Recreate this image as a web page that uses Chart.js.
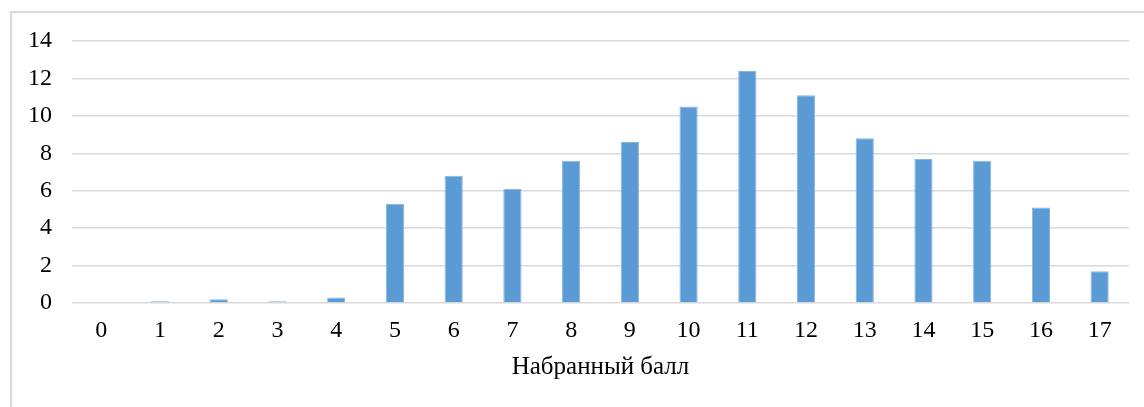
<!DOCTYPE html>
<html lang="ru">
<head>
    <meta charset="UTF-8">
    <title>Набранный балл</title>
    <script src="https://cdn.jsdelivr.net/npm/chart.js"></script>
    <style>
        body { margin: 0; background: #fff; }
        #wrap { position: relative; width: 1144px; height: 407px; overflow: hidden; }
        #frame {
            position: absolute; left: 10px; top: 11px;
            width: 1200px; height: 500px;
            border: 2px solid #d9d9d9;
        }
        #chart { position: absolute; left: 0; top: 0; }
    </style>
</head>
<body>
    <div id="wrap">
        <div id="frame"></div>
        <canvas id="chart" width="1144" height="407"></canvas>
    </div>

    <script>
        const scores = ['0', '1', '2', '3', '4', '5', '6', '7', '8', '9', '10', '11', '12', '13', '14', '15', '16', '17'];
        const percents = [0, 0.1, 0.2, 0.1, 0.3, 5.3, 6.8, 6.1, 7.6, 8.6, 10.5, 12.4, 11.1, 8.8, 7.7, 7.6, 5.1, 1.7];
        const axisTitle = 'Набранный балл';

        const serif = '"Liberation Serif", "Times New Roman", serif';
        const tickFont = { family: serif, size: 24 };
        const titleFont = { family: serif, size: 25 };

        new Chart(document.getElementById('chart'), {
            type: 'bar',
            data: {
                labels: scores,
                datasets: [{
                    data: percents,
                    backgroundColor: '#5b9bd5',
                    borderColor: '#86b5e2',
                    borderWidth: 1,
                    categoryPercentage: 1,
                    barPercentage: 0.31
                }]
            },
            options: {
                responsive: false,
                animation: false,
                layout: { padding: { top: 41, right: 15, bottom: 0, left: 0 } },
                plugins: { legend: { display: false }, tooltip: { enabled: false } },
                scales: {
                    x: {
                        grid: { display: false, tickLength: 0 },
                        border: { display: false },
                        ticks: { color: '#000', font: tickFont, padding: 13, maxRotation: 0 },
                        title: { display: true, text: axisTitle, color: '#000', font: titleFont, padding: { top: 0, bottom: 25 } },
                        afterFit: function (scale) { scale.height = 104; }
                    },
                    y: {
                        min: 0,
                        max: 14,
                        ticks: { stepSize: 2, color: '#000', font: tickFont, padding: 20 },
                        grid: { color: '#d9d9d9', lineWidth: 1.5, drawTicks: false, tickLength: 0 },
                        border: { display: false },
                        afterFit: function (scale) { scale.width = 72; }
                    }
                }
            }
        });
    </script>
</body>
</html>
